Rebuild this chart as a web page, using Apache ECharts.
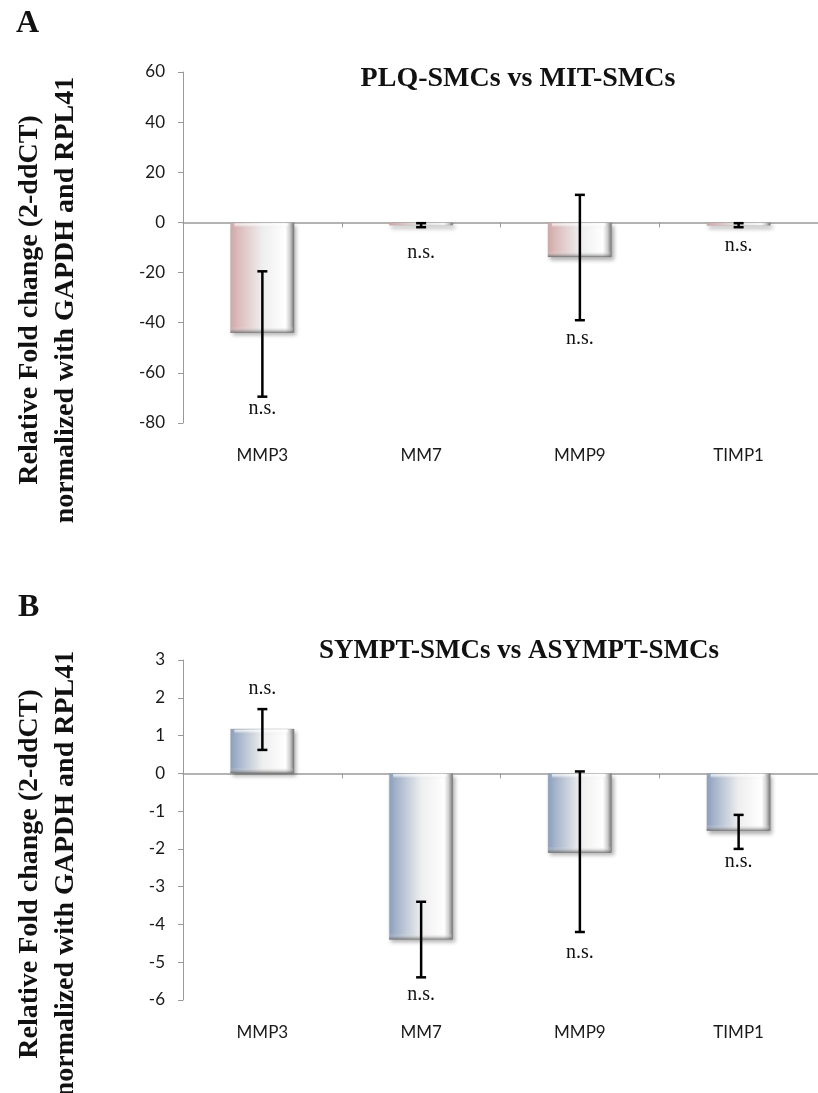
<!DOCTYPE html>
<html>
<head>
<meta charset="utf-8">
<script src="https://cdn.jsdelivr.net/npm/echarts@6/dist/echarts.min.js"></script>
<style>
html,body{margin:0;padding:0;background:#fff;}
#chart{width:818px;height:1093px;}
</style>
</head>
<body>
<div id="chart"></div>
<script>
const categories = ['MMP3', 'MM7', 'MMP9', 'TIMP1'];

const titleA = 'PLQ-SMCs vs MIT-SMCs';
const valuesA = [-44, -1.2, -13.8, -1.3];
const errTopA = [-19.5, -0.3, 11, -0.3];
const errBottomA = [-69.5, -1.9, -39, -1.9];
const nsA = [-74.5, -12, -46.5, -9.5];
const ticksA = { min: -80, max: 60, interval: 20 };

const titleB = 'SYMPT-SMCs vs ASYMPT-SMCs';
const valuesB = [1.18, -4.4, -2.1, -1.52];
const errTopB = [1.7, -3.4, 0.05, -1.1];
const errBottomB = [0.62, -5.4, -4.2, -2.0];
const nsB = [2.25, -5.85, -4.75, -2.35];
const ticksB = { min: -6, max: 3, interval: 1 };

const yTitle = 'Relative Fold change (2-ddCT)\nnormalized with GAPDH and RPL41';

const serif = '"Liberation Serif", "Times New Roman", serif';
const sans = 'Lato, "Open Sans", sans-serif';
const BAR_W = 64;

function barGradient(c) {
  return new echarts.graphic.LinearGradient(0, 0, 1, 0, [
    { offset: 0, color: c },
    { offset: 0.5, color: '#eeeeee' },
    { offset: 0.86, color: '#ffffff' },
    { offset: 0.93, color: '#d0d0d0' },
    { offset: 1, color: '#6e6e6e' }
  ]);
}

function bevelRender(params, api) {
  const i = api.value(0);
  const p0 = api.coord([i, 0]);
  const p1 = api.coord([i, api.value(1)]);
  const x = p0[0] - BAR_W / 2;
  const top = Math.min(p0[1], p1[1]);
  const bot = Math.max(p0[1], p1[1]);
  const h = bot - top;
  if (h < 8) return null;
  const s = Math.min(6, h / 3);
  return {
    type: 'group',
    children: [
      { type: 'rect', shape: { x: x, y: bot - s, width: BAR_W - 1, height: s },
        style: { fill: new echarts.graphic.LinearGradient(0, 0, 0, 1, [
          { offset: 0, color: 'rgba(255,255,255,0)' },
          { offset: 1, color: 'rgba(90,90,90,0.75)' }]) } },
      { type: 'rect', shape: { x: x + 4, y: top + 1, width: BAR_W - 10, height: 4 },
        style: { fill: new echarts.graphic.LinearGradient(0, 0, 0, 1, [
          { offset: 0, color: 'rgba(255,255,255,0.9)' },
          { offset: 1, color: 'rgba(255,255,255,0)' }]) } }
    ]
  };
}

function errRender(params, api) {
  const x = api.value(0);
  const top = api.coord([x, api.value(1)]);
  const bot = api.coord([x, api.value(2)]);
  const cw = 5;
  const style = { stroke: '#000', lineWidth: 2.5 };
  return {
    type: 'group',
    children: [
      { type: 'line', shape: { x1: top[0], y1: top[1], x2: bot[0], y2: bot[1] }, style },
      { type: 'line', shape: { x1: top[0] - cw, y1: top[1], x2: top[0] + cw, y2: top[1] }, style },
      { type: 'line', shape: { x1: bot[0] - cw, y1: bot[1], x2: bot[0] + cw, y2: bot[1] }, style }
    ]
  };
}

function nsRender(params, api) {
  const p = api.coord([api.value(0), api.value(1)]);
  return {
    type: 'text',
    style: { text: 'n.s.', x: p[0], y: p[1], align: 'center', verticalAlign: 'middle',
             font: '20px ' + serif, fill: '#111' }
  };
}

function panelAxes(gi, ticks) {
  const xa = [
    {
      type: 'category', gridIndex: gi, data: categories,
      axisLine: { onZero: true, lineStyle: { color: '#9a9a9a', width: 1.5 } },
      axisTick: { show: true, length: 5, lineStyle: { color: '#9a9a9a' } },
      axisLabel: { show: false }
    },
    {
      type: 'category', gridIndex: gi, data: categories, position: 'bottom',
      axisLine: { show: false, onZero: false }, axisTick: { show: false },
      axisLabel: { margin: 24, fontFamily: sans, fontSize: 17, color: '#1a1a1a' }
    }
  ];
  const ya = {
    type: 'value', gridIndex: gi, min: ticks.min, max: ticks.max, interval: ticks.interval,
    axisLine: { show: true, lineStyle: { color: '#9a9a9a', width: 1 } },
    axisTick: { show: true, length: 5, lineStyle: { color: '#9a9a9a' } },
    splitLine: { show: false },
    axisLabel: { margin: 18, fontFamily: sans, fontSize: 17, color: '#1a1a1a' }
  };
  return { xa, ya };
}

const axA = panelAxes(0, ticksA);
const axB = panelAxes(1, ticksB);

function barSeries(xi, yi, vals, color) {
  return {
    type: 'bar', xAxisIndex: xi, yAxisIndex: yi, data: vals, barWidth: BAR_W,
    itemStyle: {
      color: barGradient(color), borderColor: 'rgba(150,150,150,0.6)', borderWidth: 0.5,
      shadowColor: 'rgba(0,0,0,0.3)', shadowBlur: 4, shadowOffsetX: 2, shadowOffsetY: 3
    },
    z: 2
  };
}

function bevelSeries(xi, yi, vals) {
  return {
    type: 'custom', xAxisIndex: xi, yAxisIndex: yi, renderItem: bevelRender,
    data: categories.map((c, i) => [i, vals[i]]), z: 3, silent: true
  };
}

function errSeries(xi, yi, tops, bots) {
  return {
    type: 'custom', xAxisIndex: xi, yAxisIndex: yi, renderItem: errRender,
    data: categories.map((c, i) => [i, tops[i], bots[i]]), z: 5, silent: true
  };
}

function nsSeries(xi, yi, ns) {
  return {
    type: 'custom', xAxisIndex: xi, yAxisIndex: yi, renderItem: nsRender,
    data: categories.map((c, i) => [i, ns[i]]), z: 6, silent: true
  };
}

const option = {
  animation: false,
  backgroundColor: '#fff',
  title: [
    { text: titleA, left: 513, top: 60, textAlign: 'center',
      textStyle: { fontFamily: serif, fontWeight: 'bold', fontSize: 28, color: '#111' } },
    { text: titleB, left: 514, top: 633, textAlign: 'center',
      textStyle: { fontFamily: serif, fontWeight: 'bold', fontSize: 27, color: '#111' } }
  ],
  grid: [
    { left: 183, top: 72, width: 644, height: 351 },
    { left: 183, top: 660, width: 644, height: 340 }
  ],
  xAxis: [axA.xa[0], axA.xa[1], axB.xa[0], axB.xa[1]],
  yAxis: [axA.ya, axB.ya],
  series: [
    barSeries(0, 0, valuesA, '#d6abab'),
    bevelSeries(0, 0, valuesA),
    errSeries(0, 0, errTopA, errBottomA),
    nsSeries(0, 0, nsA),
    barSeries(2, 1, valuesB, '#8ea2c0'),
    bevelSeries(2, 1, valuesB),
    errSeries(2, 1, errTopB, errBottomB),
    nsSeries(2, 1, nsB)
  ],
  graphic: [
    { type: 'text', left: 16, top: 8, style: { text: 'A', font: 'bold 32px ' + serif, fill: '#111' } },
    { type: 'text', left: 18, top: 592, style: { text: 'B', font: 'bold 32px ' + serif, fill: '#111' } },
    { type: 'text', x: 48, y: 300, rotation: Math.PI / 2,
      style: { text: yTitle, font: 'bold 28px ' + serif, fill: '#111', align: 'center',
               verticalAlign: 'middle', lineHeight: 36 } },
    { type: 'text', x: 48, y: 874, rotation: Math.PI / 2,
      style: { text: yTitle, font: 'bold 28px ' + serif, fill: '#111', align: 'center',
               verticalAlign: 'middle', lineHeight: 36 } }
  ]
};

const chart = echarts.init(document.getElementById('chart'), null, { renderer: 'canvas' });
chart.setOption(option);
</script>
</body>
</html>
